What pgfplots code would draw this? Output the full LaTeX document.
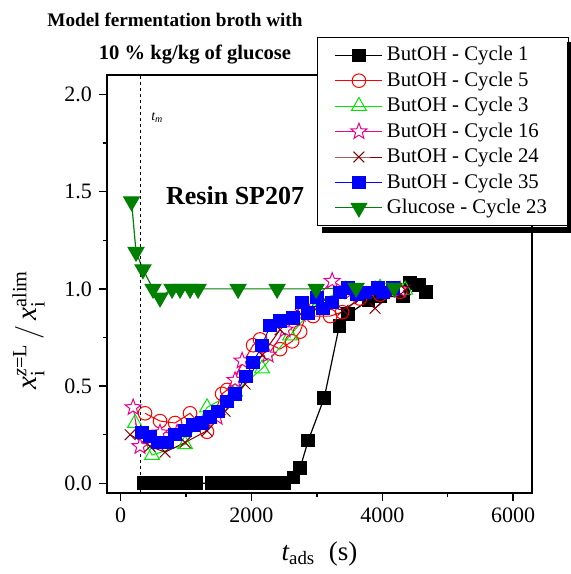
\documentclass[border=0pt]{standalone}
\usepackage{fontspec}
\setmainfont{Liberation Serif}
\usepackage{amsmath}
\usepackage{pgfplots}
\pgfplotsset{compat=1.18}
\definecolor{brn}{RGB}{128,0,0}
\definecolor{dgreen}{RGB}{0,128,0}
\definecolor{lgreen}{RGB}{0,230,0}
\pgfdeclareplotmark{ostar}{%
  \pgfpathmoveto{\pgfpointpolar{90}{\pgfplotmarksize}}%
  \pgfpathlineto{\pgfpointpolar{126}{0.42\pgfplotmarksize}}%
  \pgfpathlineto{\pgfpointpolar{162}{\pgfplotmarksize}}%
  \pgfpathlineto{\pgfpointpolar{198}{0.42\pgfplotmarksize}}%
  \pgfpathlineto{\pgfpointpolar{234}{\pgfplotmarksize}}%
  \pgfpathlineto{\pgfpointpolar{270}{0.42\pgfplotmarksize}}%
  \pgfpathlineto{\pgfpointpolar{306}{\pgfplotmarksize}}%
  \pgfpathlineto{\pgfpointpolar{342}{0.42\pgfplotmarksize}}%
  \pgfpathlineto{\pgfpointpolar{18}{\pgfplotmarksize}}%
  \pgfpathlineto{\pgfpointpolar{54}{0.42\pgfplotmarksize}}%
  \pgfpathclose\pgfusepathqfillstroke}
\begin{document}
\begin{tikzpicture}
\useasboundingbox (-53.5pt,-40.5pt) rectangle (231.5pt,246.5pt);
\begin{axis}[
  scale only axis, width=212.5pt, height=209pt,
  xmin=-210, xmax=6290, ymin=-0.05, ymax=2.10,
  clip=false,
  axis line style={line width=0.8pt},
  tick align=outside, tick pos=left,
  major tick length=4pt, minor tick length=2pt,
  every tick/.style={line width=0.7pt, black},
  xtick={0,2000,4000,6000}, minor xtick={1000,3000,5000},
  ytick={0,0.5,1,1.5,2}, minor ytick={0.25,0.75,1.25,1.75},
  xticklabel style={/pgf/number format/.cd, set thousands separator={}, assume math mode=true},
  yticklabel style={/pgf/number format/.cd, fixed, fixed zerofill, precision=1, assume math mode=true},
  tick label style={font=\fontsize{11}{13}\selectfont},
  xlabel={$\textit{t}_{\text{ads}}$\ \ (s)},
  ylabel={$\textit{x}_{\text{i}}^{\text{\textit{z}=L}}\,/\,\textit{x}_{\text{i}}^{\text{alim}}$},
  every axis x label/.style={at={(rel axis cs:0.5,-0.145)}, anchor=center, font=\fontsize{13.5}{15}\selectfont},
  every axis y label/.style={at={(rel axis cs:-0.185,0.39)}, anchor=center, rotate=90, font=\fontsize{14.5}{16}\selectfont},
  legend style={at={(rel axis cs:0.494,1.091)}, anchor=north west, draw=black, line width=0.6pt,
    fill=white,
    font=\fontsize{10.4}{12}\selectfont, inner xsep=8.7pt, inner ysep=2.5pt, row sep=0pt},
  legend cell align=left,
  legend image code/.code={\draw[line width=0.5pt, mark repeat=2,mark phase=2] plot coordinates {(0pt,0pt) (11.75pt,0pt) (23.5pt,0pt)};},
]
% Cycle 1
\addplot[black, line width=0.6pt, mark=square*, mark size=3.1pt, mark options={solid}] coordinates {
(350,0)(450,0)(550,0)(650,0)(750,0)(850,0)(950,0)(1050,0)(1150,0)
(1400,0)(1500,0)(1600,0)(1700,0)(1800,0)(1900,0)(2000,0)(2100,0)(2200,0)(2300,0)(2400,0)(2500,0)
(2640,0.03)(2745,0.08)(2868,0.22)(3113,0.44)(3343,0.81)(3480,0.87)(3790,0.94)(3970,0.96)(4320,0.96)(4425,1.03)(4563,1.02)(4670,0.985)};
\addlegendentry{ButOH - Cycle 1}
% Cycle 5
\addplot[red, line width=0.5pt, mark=o, mark size=3.4pt] coordinates {
(372,0.36)(601,0.32)(831,0.31)(1060,0.36)(1320,0.265)(1550,0.46)(1626,0.48)(2024,0.71)(2131,0.74)(2437,0.69)(2621,0.73)(2744,0.78)(2851,0.88)(2943,0.86)(3203,0.86)(3386,0.88)(3660,0.95)(3967,0.97)(4273,0.985)};
\addlegendentry{ButOH - Cycle 5}
% Cycle 3
\addplot[lgreen, line width=0.5pt, mark=triangle, mark size=4.3pt] coordinates {
(219,0.31)(479,0.145)(984,0.20)(1320,0.39)(1750,0.47)(2162,0.59)(2590,0.76)(3050,0.94)(3433,0.995)(3967,1.005)(4350,0.995)};
\addlegendentry{ButOH - Cycle 3}
% Cycle 16
\addplot[magenta, line width=0.5pt, mark=ostar, mark size=4.2pt, mark options={fill=white}] coordinates {
(190,0.39)(295,0.19)(601,0.26)(862,0.26)(1474,0.34)(1749,0.53)(1856,0.63)(2254,0.66)(2514,0.79)(2744,0.87)(3234,1.04)(3509,0.985)(3890,0.995)(4273,0.995)};
\addlegendentry{ButOH - Cycle 16}
% Cycle 24
\addplot[brn, line width=0.5pt, mark=x, mark size=3.8pt] coordinates {
(144,0.25)(448,0.19)(678,0.16)(984,0.21)(1320,0.27)(1596,0.37)(1902,0.51)(2162,0.66)(2437,0.79)(2744,0.87)(3050,0.92)(3400,0.89)(3660,0.95)(3890,0.90)(4197,0.985)(4350,0.995)};
\addlegendentry{ButOH - Cycle 24}
% Cycle 35
\addplot[blue, line width=0.5pt, mark=square*, mark size=3.1pt] coordinates {
(326,0.26)(448,0.24)(571,0.21)(708,0.21)(831,0.25)(984,0.27)(1106,0.30)(1244,0.31)(1366,0.34)(1489,0.37)(1626,0.42)(1749,0.46)(1917,0.55)(2024,0.62)(2162,0.71)(2285,0.81)(2438,0.835)(2637,0.85)(2775,0.93)(2867,0.875)(3004,0.955)(3096,0.90)(3234,0.93)(3356,0.98)(3478,1.005)(3616,0.97)(3738,0.98)(3937,1.005)(4013,0.98)(4166,1.005)};
\addlegendentry{ButOH - Cycle 35}
% Glucose
\addplot[dgreen, line width=0.6pt, mark=triangle*, mark size=4.5pt, mark options={rotate=180}] coordinates {
(165,1.45)(234,1.19)(340,1.10)(494,1.00)(601,0.955)(785,1.00)(907,1.00)(1060,1.00)(1183,1.00)(1795,1.00)(2392,1.00)(2989,1.00)(3600,1.005)(4182,1.005)};
\addlegendentry{Glucose - Cycle 23}
% t_m line
\addplot[black, line width=0.5pt, dash pattern=on 1.5pt off 1.5pt, forget plot] coordinates {(310,-0.05)(310,2.10)};
\node[font=\fontsize{7}{8}\selectfont] at (axis cs:560,1.88) {$\textit{t}_{\textit{m}}$};
\node[font=\bfseries\fontsize{13}{15}\selectfont] at (axis cs:1750,1.48) {Resin SP207};
\node[font=\bfseries\fontsize{9.6}{12}\selectfont] at (rel axis cs:0.16,1.132) {Model fermentation broth with};
\node[font=\bfseries\fontsize{10.3}{12}\selectfont] at (rel axis cs:0.207,1.048) {10 \% kg/kg of glucose};
\end{axis}
\fill[black] (107.5pt,130pt) rectangle (232.5pt,132.8pt);
\fill[black] (230.2pt,130pt) rectangle (232.5pt,225.5pt);
\end{tikzpicture}
\end{document}
